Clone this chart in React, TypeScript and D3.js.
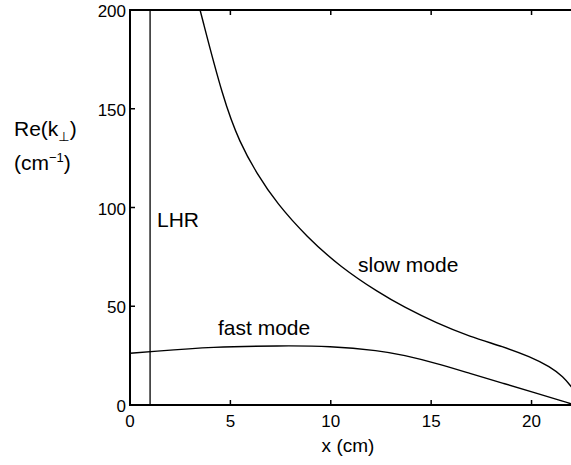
import * as d3 from "d3";

// values
const slowX = [3.49, 4.65, 5.48, 6.31, 7.31, 8.8, 10.46, 12.45, 13.61, 15.27, 16.93, 18.59, 19.92, 20.92, 21.58, 22];
const slowY = [200, 154.4, 132.5, 117.3, 102.1, 85.2, 70.0, 56.5, 49.8, 41.4, 34.6, 29.5, 24.5, 19.4, 14.3, 9];
const fastX = [0, 1, 4.15, 7.47, 9.96, 12.45, 13.61, 15.27, 16.93, 18.59, 20.25, 21.75, 22];
const fastY = [26.2, 27.0, 29.5, 30.0, 29.9, 27.5, 25.3, 21.1, 16.0, 11.0, 5.9, 1.4, 0.5];
const lhrX = 1;
const xTicks = [0, 5, 10, 15, 20];
const yTicks = [0, 50, 100, 150, 200];

const W = 571;
const H = 465;
const font = "'Liberation Sans', Arial, Helvetica, sans-serif";

export default function App() {
  const x = d3.scaleLinear().domain([0, 22]).range([130, 571.7]);
  const y = d3.scaleLinear().domain([0, 200]).range([405, 10]);

  const line = d3
    .line<[number, number]>()
    .x((d) => x(d[0]))
    .y((d) => y(d[1]))
    .curve(d3.curveBasis);

  const slow = line(slowX.map((v, i) => [v, slowY[i]]));
  const fast = line(fastX.map((v, i) => [v, fastY[i]]));

  const [x0, x1] = x.range();
  const [y0, y1] = y.range();

  return (
    <svg
      width={W}
      height={H}
      style={{ position: "absolute", left: 0, top: 0, background: "#fff" }}
      fontFamily={font}
    >
      <defs>
        <clipPath id="plot">
          <rect x={x0} y={y1} width={x1 - x0} height={y0 - y1} />
        </clipPath>
      </defs>

      {/* curves */}
      <g clipPath="url(#plot)" fill="none" stroke="#000">
        <path d={slow ?? ""} strokeWidth={1.4} />
        <path d={fast ?? ""} strokeWidth={1.4} />
        <line x1={x(lhrX)} x2={x(lhrX)} y1={y0} y2={y1} strokeWidth={1.3} />
      </g>

      {/* frame */}
      <g stroke="#000" strokeWidth={2}>
        <line x1={x0} x2={x0} y1={y0 + 1} y2={y1 - 1} />
        <line x1={x0 - 1} x2={x1} y1={y0} y2={y0} />
        <line x1={x0 - 1} x2={x1} y1={y1} y2={y1} />
      </g>

      {/* ticks */}
      <g stroke="#000" strokeWidth={1.5}>
        {xTicks.map((t) => (
          <g key={"xt" + t}>
            <line x1={x(t)} x2={x(t)} y1={y0} y2={y0 - 5} />
            <line x1={x(t)} x2={x(t)} y1={y1} y2={y1 + 5} />
          </g>
        ))}
        {yTicks.map((t) => (
          <line key={"yt" + t} x1={x0} x2={x0 + 5} y1={y(t)} y2={y(t)} />
        ))}
      </g>

      {/* tick labels */}
      <g fontSize={17} fill="#000">
        {xTicks.map((t) => (
          <text key={"xl" + t} x={x(t)} y={427} textAnchor="middle">
            {t}
          </text>
        ))}
        {yTicks.map((t) => (
          <text key={"yl" + t} x={126} y={y(t) + 7} textAnchor="end">
            {t}
          </text>
        ))}
      </g>

      {/* axis titles */}
      <text x={348} y={452} fontSize={19} textAnchor="middle">
        x (cm)
      </text>
      <text x={14} y={136} fontSize={21} fill="#000">
        Re(k
        <tspan fontSize={13} dy={5} fontFamily="'DejaVu Sans', sans-serif" fill="#000">
          ⊥
        </tspan>
        <tspan dy={-5}>)</tspan>
      </text>
      <text x={14} y={170} fontSize={21}>
        (cm
        <tspan fontSize={13} dy={-8}>−1</tspan>
        <tspan dy={8}>)</tspan>
      </text>

      {/* curve labels */}
      <text x={157} y={227} fontSize={21}>
        LHR
      </text>
      <text x={358} y={272} fontSize={21}>
        slow mode
      </text>
      <text x={218} y={335} fontSize={21}>
        fast mode
      </text>
    </svg>
  );
}
